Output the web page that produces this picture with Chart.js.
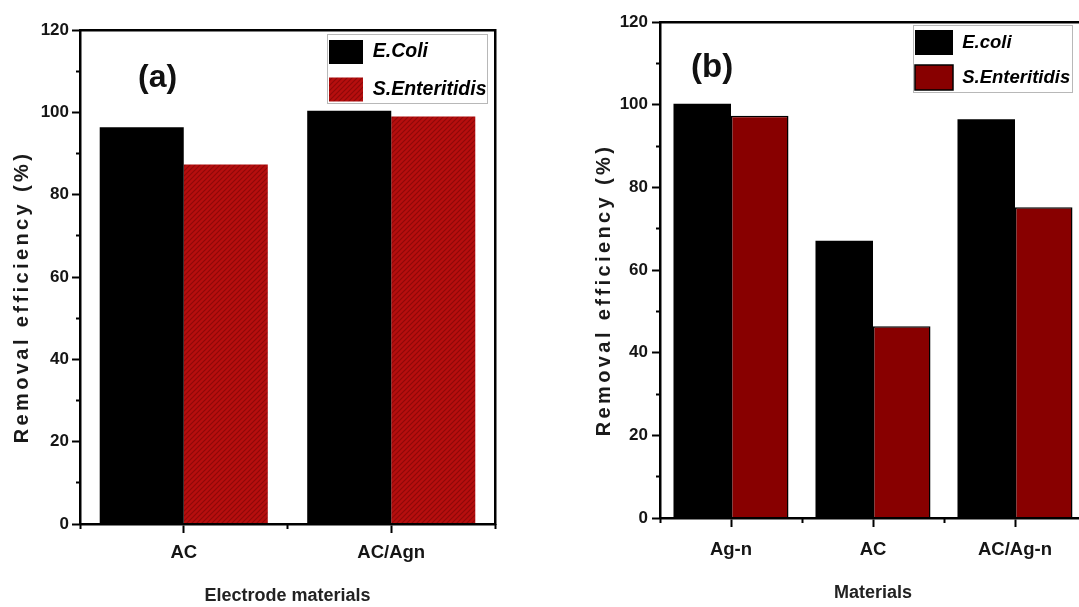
<!DOCTYPE html>
<html>
<head>
<meta charset="utf-8">
<script src="https://cdn.jsdelivr.net/npm/chart.js"></script>
<style>
  body { margin: 0; width: 1079px; height: 607px; overflow: hidden; background: #fff; position: relative;
         font-family: "Liberation Sans", Arial, sans-serif; }
  canvas { position: absolute; top: 0; }
  #chartA { left: 0; }
  #chartB { left: 540px; }
  .tag { position: absolute; font-weight: bold; color: #111; line-height: 1; }
</style>
</head>
<body>
<canvas id="chartA" width="540" height="607"></canvas>
<canvas id="chartB" width="560" height="607"></canvas>
<div class="tag" style="left:138px; top:60px; font-size:32px">(a)</div>
<div class="tag" style="left:691px; top:49px; font-size:33px">(b)</div>
<script>
// data
const yTitle = "Removal efficiency (%)";
const yTicks = [0, 20, 40, 60, 80, 100, 120];

// panel (a)
const catsA = ["AC", "AC/Agn"];
const ecoliA = [96.4, 100.4];
const salmA = [87.3, 99.0];

// panel (b)
const catsB = ["Ag-n", "AC", "AC/Ag-n"];
const ecoliB = [100.2, 67.1, 96.5];
const salmB = [97.3, 46.4, 75.2];

const FONT = '"Liberation Sans", Arial, sans-serif';

// hatched red fill used in panel (a)
function hatch(ctx) {
  const c = document.createElement("canvas");
  c.width = c.height = 5;
  const g = c.getContext("2d");
  g.fillStyle = "#b60e0e";
  g.fillRect(0, 0, 5, 5);
  g.strokeStyle = "#8e0909";
  g.lineWidth = 1.1;
  g.beginPath();
  g.moveTo(0, 5); g.lineTo(5, 0);
  g.moveTo(-1, 1); g.lineTo(1, -1);
  g.moveTo(4, 6); g.lineTo(6, 4);
  g.stroke();
  return ctx.createPattern(c, "repeat");
}

// legend sits inside the plot frame instead of taking layout space
const insideLegend = {
  id: "insideLegend",
  beforeInit(chart) {
    const lg = chart.legend;
    const fit = lg.fit;
    lg.fit = function () { fit.call(this); this.width = 0; this.height = 0; };
  },
  afterLayout(chart, args, o) {
    const lg = chart.legend;
    lg.left = o.left; lg.top = o.top;
    lg.width = o.width; lg.height = o.height;
    lg.right = o.left + o.width; lg.bottom = o.top + o.height;
  },
  afterDraw(chart, args, o) {
    const c = chart.ctx, f = o.frame;
    c.save();
    c.strokeStyle = "#b8b8b8";
    c.lineWidth = 1;
    c.strokeRect(f[0] + 0.5, f[1] + 0.5, f[2], f[3]);
    c.restore();
  }
};

// the y title in the figure is widely letter-spaced
const spacedTitle = {
  id: "spacedTitle",
  beforeInit(chart) {
    const ctx = chart.ctx;
    const fill = ctx.fillText;
    ctx.fillText = function (text, x, y, maxWidth) {
      const o = chart.options.plugins.spacedTitle;
      if (o && text === o.text) {
        this.letterSpacing = o.spacing + "px";
        fill.call(this, text, x + o.shift, y);
        this.letterSpacing = "0px";
      } else if (maxWidth === undefined) {
        fill.call(this, text, x, y);
      } else {
        fill.call(this, text, x, y, maxWidth);
      }
    };
  }
};

function frameAxis(pos) {
  return {
    type: "linear", position: pos, min: 0, max: 1, offset: false,
    ticks: { display: false },
    grid: { offset: false, drawOnChartArea: false, drawTicks: false },
    border: { color: "#000", width: 2.5, z: 1 },
    afterFit: s => { if (pos === "top") s.height = 0; else s.width = 0; }
  };
}

function panel(id, cats, ecoli, salm, p) {
  const ctx = document.getElementById(id).getContext("2d");
  const red = p.hatched ? hatch(ctx) : "#880000";
  return new Chart(ctx, {
    type: "bar",
    data: {
      labels: cats,
      datasets: [
        { label: p.names[0], data: ecoli, backgroundColor: "#000", borderColor: "#000", borderWidth: 0 },
        { label: p.names[1], data: salm, backgroundColor: red, borderColor: "#000", borderWidth: p.redBorder }
      ]
    },
    options: {
      responsive: false,
      animation: false,
      font: { family: FONT },
      datasets: { bar: { categoryPercentage: 0.81, barPercentage: 1 } },
      layout: { padding: { top: p.top, right: p.right, left: 0, bottom: 0 } },
      scales: {
        x: {
          weight: 1,
          grid: { offset: false, drawOnChartArea: false, tickLength: 9, tickWidth: 2, tickColor: "#000" },
          border: { color: "#000", width: 2.5, z: 1 },
          ticks: { color: "#151515", font: { family: FONT, size: 18.5, weight: "bold" }, padding: p.xPad },
          title: { display: true, text: p.xTitle, color: "#222",
                   font: { family: FONT, size: 18, weight: "bold" }, padding: { top: 0, bottom: p.xTitlePad } },
          afterFit: s => { s.height = p.xH; }
        },
        // short ticks between the categories
        xm: {
          type: "linear", position: "bottom", weight: 0, min: 0, max: cats.length, offset: false,
          ticks: { stepSize: 1, display: false },
          grid: { offset: false, drawOnChartArea: false, tickLength: 5, tickWidth: 2, tickColor: "#000" },
          border: { display: false },
          afterFit: s => { s.height = 0; }
        },
        y: {
          min: 0, max: 120,
          ticks: {
            stepSize: 10,
            callback: v => yTicks.includes(v) ? v : "",
            color: "#151515", font: { family: FONT, size: 17, weight: "bold" }, padding: p.yPad
          },
          grid: {
            drawOnChartArea: false, tickLength: 8, tickWidth: 2, tickColor: "#000",
            tickBorderDash: c => (c.tick && c.tick.value % 20) ? [4, 4] : [],
            tickBorderDashOffset: c => (c.tick && c.tick.value % 20) ? 4 : 0
          },
          border: { color: "#000", width: 2.5, z: 1 },
          title: { display: true, text: yTitle, color: "#1a1a1a",
                   font: { family: FONT, size: 20, weight: "bold" }, padding: { top: p.yTitlePad, bottom: 0 } },
          afterFit: s => { s.width = p.yW; }
        },
        xt: frameAxis("top"),
        yr: frameAxis("right")
      },
      plugins: {
        tooltip: { enabled: false },
        legend: {
          position: "right", align: "start",
          labels: {
            boxWidth: p.boxW, boxHeight: p.boxH, padding: p.legPad, color: "#000",
            font: { family: FONT, size: p.legFont, weight: "bold", style: "italic" }
          }
        },
        insideLegend: p.legend,
        spacedTitle: { text: yTitle, spacing: 3.4, shift: -20 }
      }
    },
    plugins: [insideLegend, spacedTitle]
  });
}

panel("chartA", catsA, ecoliA, salmA, {
  names: ["E.Coli", "S.Enteritidis"], hatched: true, redBorder: 0,
  top: 30, right: 45, yW: 80, xH: 83,
  xPad: 9, xTitle: "Electrode materials", xTitlePad: 0,
  yPad: 3, yTitlePad: 10,
  boxW: 34, boxH: 24, legPad: 13.5, legFont: 19.5,
  legend: { left: 315.5, top: 26.5, width: 200, height: 100, frame: [327, 34, 160, 69] }
});

panel("chartB", catsB, ecoliB, salmB, {
  names: ["E.coli", "S.Enteritidis"], hatched: false, redBorder: 1.5,
  top: 22, right: 14, yW: 120, xH: 89,
  xPad: 12, xTitle: "Materials", xTitlePad: 3,
  yPad: 4, yTitlePad: 52,
  boxW: 38, boxH: 25, legPad: 10, legFont: 18.5,
  legend: { left: 365, top: 20, width: 200, height: 90, frame: [373, 25, 159, 67] }
});
</script>
</body>
</html>
